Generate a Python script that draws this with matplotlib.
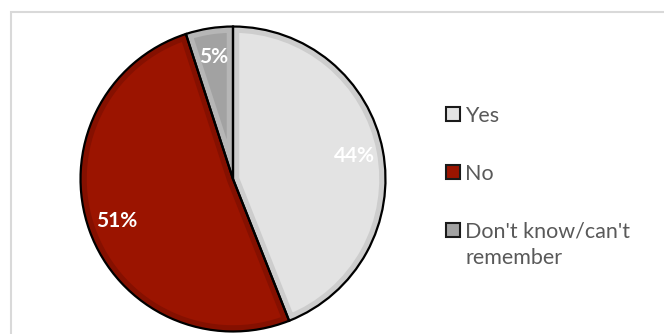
import matplotlib.pyplot as plt
from matplotlib.patches import Rectangle, Wedge

### Survey answers
answers = ['Yes', 'No', "Don't know/can't\nremember"]
shares = [44, 51, 5]          # percent
fills = ['#e3e3e3', '#9b1400', '#a2a2a2']
bevels = ['#cdcdcd', '#851000', '#b6b6b6']

plt.rcParams['font.family'] = ['Lato', 'DejaVu Sans']

W, H = 664., 334.
fig = plt.figure(figsize=(6.64, 3.34), dpi=100)
fig.patch.set_facecolor('white')

# light frame round the chart area (top and left edges only show)
frame = Rectangle((11/W, -0.1), 1.0, 1 - 12/H + 0.1, transform=fig.transFigure,
                  fill=False, edgecolor='#d9d9d9', linewidth=1.5)
fig.patches.append(frame)

ax = fig.add_axes([79/W, 1 - 333/H, 308/W, 308/H])
wedges, texts, autotexts = ax.pie(shares, colors=fills, startangle=90, counterclock=False,
                                  autopct=lambda p: '%.0f%%' % p, pctdistance=0.81,
                                  wedgeprops=dict(linewidth=0))
# bevel: a thick edge clipped to its own wedge so only the inner half shows
for w, bc in zip(wedges, bevels):
    b = Wedge(w.center, w.r, w.theta1, w.theta2, facecolor='none',
              edgecolor=bc, linewidth=9, zorder=w.get_zorder() + 0.1)
    ax.add_patch(b)
    b.set_clip_path(w)
# black outlines on top
for w in wedges:
    ax.add_patch(Wedge(w.center, w.r, w.theta1, w.theta2, facecolor='none',
                       edgecolor='black', linewidth=1.6, zorder=w.get_zorder() + 0.2))
for t in autotexts:
    t.set_color('white')
    t.set_fontsize(15)
    t.set_fontweight('bold')
    t.set_zorder(5)
ax.set_xlim(-1.01, 1.01)
ax.set_ylim(-1.01, 1.01)
ax.set_aspect('equal')

# legend drawn by hand so the marker sits on the first line of a wrapped label
row_y = 114
for lab, fc in zip(answers, fills):
    sq = Rectangle((446/W, 1 - (row_y + 7)/H), 14/W, 14/H, transform=fig.transFigure,
                   facecolor=fc, edgecolor='#1a1a1a', linewidth=1.5)
    fig.patches.append(sq)
    lines = lab.split('\n')
    for k, ln in enumerate(lines):
        fig.text(465/W, 1 - (row_y + 26*k)/H, ln, fontsize=15.5, color='#595959',
                 ha='left', va='center_baseline')
    row_y += 58

fig.savefig('out.png', dpi=100)
